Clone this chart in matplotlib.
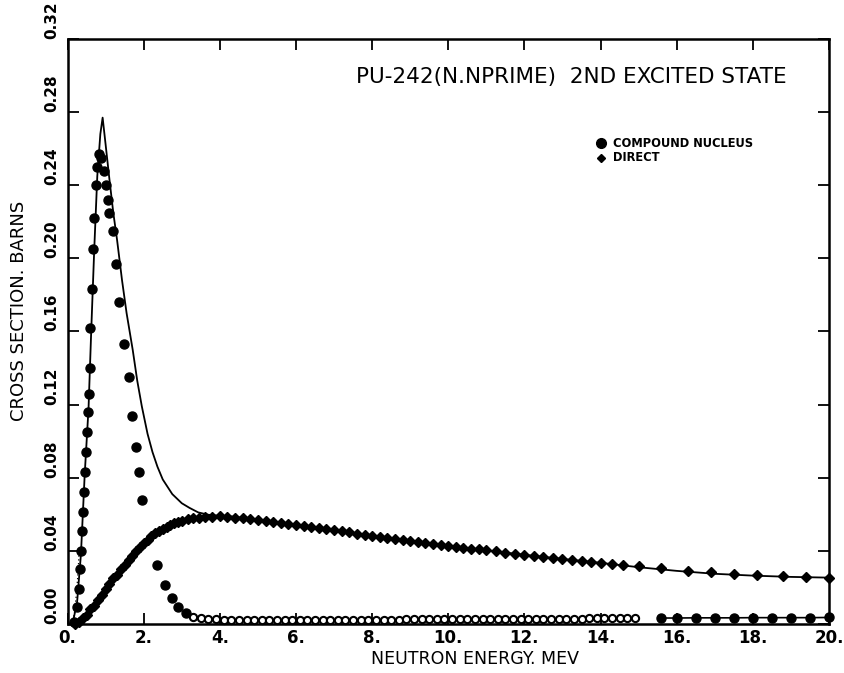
import matplotlib
matplotlib.use("Agg")
import matplotlib.pyplot as plt

# ---------------- data ----------------
cn_energy = [0.18, 0.25, 0.30, 0.33, 0.36, 0.38, 0.40, 0.42, 0.45, 0.48, 0.51, 0.54,
             0.56, 0.58, 0.60, 0.63, 0.67, 0.70, 0.74, 0.78, 0.82, 0.88, 0.95, 1.00,
             1.05, 1.10, 1.18, 1.27, 1.35, 1.48, 1.60, 1.70, 1.80, 1.88, 1.95, 2.36,
             2.55, 2.73, 2.90, 3.10, 3.30, 3.50, 3.70, 3.90, 4.10, 4.30, 4.50, 4.70,
             4.90, 5.10, 5.30, 5.50, 5.70, 5.90, 6.10, 6.30, 6.50, 6.70, 6.90, 7.10,
             7.30, 7.50, 7.70, 7.90, 8.10, 8.30, 8.50, 8.70, 8.90, 9.10, 9.30, 9.50,
             9.70, 9.90, 10.10, 10.30, 10.50, 10.70, 10.90, 11.10, 11.30, 11.50, 11.70,
             11.90, 12.10, 12.30, 12.50, 12.70, 12.90, 13.10, 13.30, 13.50, 13.70,
             13.90, 14.10, 14.30, 14.50, 14.70, 14.90, 15.60, 16.00, 16.50, 17.00,
             17.50, 18.00, 18.50, 19.00, 19.50, 20.00]
cn_sigma = [0.001, 0.009, 0.019, 0.030, 0.040, 0.051, 0.061, 0.072, 0.083, 0.094, 0.105, 0.116,
            0.126, 0.140, 0.162, 0.183, 0.205, 0.222, 0.240, 0.250, 0.257, 0.255, 0.248, 0.240,
            0.232, 0.225, 0.215, 0.197, 0.176, 0.153, 0.135, 0.114, 0.097, 0.083, 0.068, 0.032,
            0.021, 0.014, 0.009, 0.006, 0.004, 0.0032, 0.0028, 0.0025, 0.0022, 0.0021, 0.0020, 0.0020,
            0.0020, 0.0020, 0.0020, 0.0020, 0.0020, 0.0020, 0.0021, 0.0021, 0.0021, 0.0021, 0.0021, 0.0022,
            0.0022, 0.0022, 0.0022, 0.0022, 0.0023, 0.0023, 0.0023, 0.0023, 0.0024, 0.0024, 0.0024, 0.0024,
            0.0025, 0.0025, 0.0025, 0.0025, 0.0026, 0.0026, 0.0026, 0.0026, 0.0027, 0.0027, 0.0027,
            0.0027, 0.0028, 0.0028, 0.0028, 0.0028, 0.0029, 0.0029, 0.0029, 0.0029, 0.0030,
            0.0030, 0.0030, 0.0030, 0.0031, 0.0031, 0.0031, 0.0032, 0.0032, 0.0033, 0.0033,
            0.0033, 0.0034, 0.0034, 0.0034, 0.0034, 0.0035]

direct_energy = [0.20, 0.30, 0.40, 0.50, 0.60, 0.70, 0.80, 0.90, 1.00, 1.10, 1.20, 1.30, 1.40,
                 1.50, 1.60, 1.70, 1.80, 1.90, 2.00, 2.10, 2.20, 2.30, 2.40, 2.50, 2.60, 2.70,
                 2.80, 2.90, 3.00, 3.15, 3.30, 3.45, 3.60, 3.80, 4.00, 4.20, 4.40, 4.60, 4.80,
                 5.00, 5.20, 5.40, 5.60, 5.80, 6.00, 6.20, 6.40, 6.60, 6.80, 7.00, 7.20, 7.40,
                 7.60, 7.80, 8.00, 8.20, 8.40, 8.60, 8.80, 9.00, 9.20, 9.40, 9.60, 9.80, 10.00,
                 10.20, 10.40, 10.60, 10.80, 11.00, 11.25, 11.50, 11.75, 12.00, 12.25, 12.50,
                 12.75, 13.00, 13.25, 13.50, 13.75, 14.00, 14.30, 14.60, 15.00, 15.60, 16.30,
                 16.90, 17.50, 18.10, 18.80, 19.40, 20.00]
direct_sigma = [0.000, 0.001, 0.003, 0.005, 0.008, 0.010, 0.013, 0.016, 0.019, 0.022, 0.025, 0.027, 0.030,
                0.032, 0.035, 0.037, 0.040, 0.042, 0.044, 0.046, 0.048, 0.0495, 0.051, 0.052, 0.053, 0.054,
                0.055, 0.0558, 0.0565, 0.0572, 0.0578, 0.0582, 0.0585, 0.0587, 0.0588, 0.0586, 0.0582, 0.0577, 0.0572,
                0.0566, 0.0561, 0.0555, 0.0550, 0.0545, 0.0540, 0.0535, 0.0529, 0.0524, 0.0518, 0.0512, 0.0506, 0.0500,
                0.0494, 0.0488, 0.0482, 0.0476, 0.0471, 0.0465, 0.0459, 0.0454, 0.0448, 0.0443, 0.0437, 0.0432, 0.0427,
                0.0422, 0.0417, 0.0412, 0.0407, 0.0402, 0.0396, 0.0390, 0.0384, 0.0378, 0.0372, 0.0366,
                0.0360, 0.0355, 0.0349, 0.0344, 0.0339, 0.0334, 0.0328, 0.0322, 0.0315, 0.0303, 0.0290,
                0.0283, 0.0275, 0.0268, 0.0262, 0.0258, 0.0253]

total_energy = [0.05, 0.15, 0.25, 0.35, 0.45, 0.55, 0.62, 0.70, 0.78, 0.86, 0.92, 1.00, 1.10,
                1.20, 1.30, 1.43, 1.55, 1.71, 1.83, 1.95, 2.10, 2.23, 2.36, 2.50, 2.75, 3.00,
                3.20, 3.43, 3.70, 3.95, 4.30, 4.60, 5.00, 6.00, 7.00, 8.00, 9.00, 10.00, 11.00,
                12.00, 13.00, 14.00, 15.00, 16.00, 17.00, 18.00, 19.00, 20.00]
total_sigma = [0.000, 0.002, 0.012, 0.038, 0.082, 0.118, 0.160, 0.205, 0.245, 0.268, 0.277, 0.262, 0.243,
               0.225, 0.210, 0.188, 0.170, 0.150, 0.133, 0.119, 0.104, 0.094, 0.086, 0.079, 0.071, 0.066,
               0.0635, 0.061, 0.0597, 0.0592, 0.0588, 0.0580, 0.0566, 0.0540, 0.0512, 0.0482, 0.0454, 0.0427, 0.0402,
               0.0378, 0.0355, 0.0334, 0.0310, 0.0290, 0.0274, 0.0264, 0.0257, 0.0253]

aux_energy = [0.12, 0.18, 0.22, 0.26, 0.29, 0.31]
aux_sigma = [0.000, 0.006, 0.014, 0.024, 0.034, 0.042]

x_ticks = [0, 2, 4, 6, 8, 10, 12, 14, 16, 18, 20]
x_labels = ["0.", "2.", "4.", "6.", "8.", "10.", "12.", "14.", "16.", "18.", "20."]
y_ticks = [0.00, 0.04, 0.08, 0.12, 0.16, 0.20, 0.24, 0.28, 0.32]
y_labels = ["0.00", "0.04", "0.08", "0.12", "0.16", "0.20", "0.24", "0.28", "0.32"]

title_text = "PU-242(N.NPRIME)  2ND EXCITED STATE"
legend_labels = ["COMPOUND NUCLEUS", "DIRECT"]
xlabel_text = "NEUTRON ENERGY. MEV"
ylabel_text = "CROSS SECTION. BARNS"

# ---------------- figure ----------------
plt.rcParams["font.family"] = ["DejaVu Sans"]

fig = plt.figure(figsize=(8.45, 6.73), dpi=100)
ax = fig.add_axes([0.08, 0.073, 0.901, 0.869])

ax.plot(total_energy, total_sigma, color="black", lw=1.3, zorder=2)
ax.plot(aux_energy, aux_sigma, color="black", lw=0.9, ls=(0, (1, 2)), zorder=2)

# compound nucleus: big filled circles, small open rings in the dense flat part
big_e = [e for e in cn_energy if e < 3.3 or e > 15]
big_s = [s for e, s in zip(cn_energy, cn_sigma) if e < 3.3 or e > 15]
small_e = [e for e in cn_energy if 3.3 <= e <= 15]
small_s = [s for e, s in zip(cn_energy, cn_sigma) if 3.3 <= e <= 15]
ax.plot(big_e, big_s, linestyle="none", marker="o", ms=6.5,
        mfc="black", mec="black", zorder=3, clip_on=False)
ax.plot(small_e, small_s, linestyle="none", marker="o", ms=5.2,
        mfc="white", mec="black", mew=1.5, zorder=3, clip_on=False)
ax.plot([e for e in cn_energy if e >= 15], [s for e, s in zip(cn_energy, cn_sigma) if e >= 15],
        color="black", lw=1.2, zorder=2, clip_on=False)
ax.plot(direct_energy, direct_sigma, linestyle="none", marker="D", ms=5.0,
        mfc="black", mec="black", zorder=3, clip_on=False)

ax.set_xlim(0, 20)
ax.set_ylim(0, 0.32)
ax.set_xticks(x_ticks)
ax.set_xticklabels(x_labels, fontsize=12, fontweight="bold")
ax.set_yticks(y_ticks)
ax.set_yticklabels(y_labels, fontsize=11, fontweight="bold", rotation=90, va="bottom")
ax.tick_params(direction="in", length=8, width=1.3, top=True, right=True, pad=4)
ax.tick_params(axis="y", pad=6)
for sp in ax.spines.values():
    sp.set_linewidth(1.8)

ax.set_xlabel(xlabel_text, fontsize=12.5)
ax.xaxis.set_label_coords(0.535, -0.045, transform=ax.transAxes)
ax.xaxis.label.set_va("top")
ax.set_ylabel(ylabel_text, fontsize=13)
ax.yaxis.set_label_coords(-0.052, 0.535, transform=ax.transAxes)

ax.text(0.945, 0.935, title_text, transform=ax.transAxes, ha="right", va="center",
        fontsize=15.5)

# legend drawn as markers + text
ax.plot([0.70], [0.822], transform=ax.transAxes, marker="o", ms=7, color="black",
        linestyle="none", clip_on=False)
ax.text(0.716, 0.822, legend_labels[0], transform=ax.transAxes, ha="left", va="center",
        fontsize=8.3, fontweight="bold")
ax.plot([0.70], [0.797], transform=ax.transAxes, marker="D", ms=4.5, color="black",
        linestyle="none", clip_on=False)
ax.text(0.716, 0.797, legend_labels[1], transform=ax.transAxes, ha="left", va="center",
        fontsize=8.3, fontweight="bold")

fig.savefig("out.png", dpi=100)
